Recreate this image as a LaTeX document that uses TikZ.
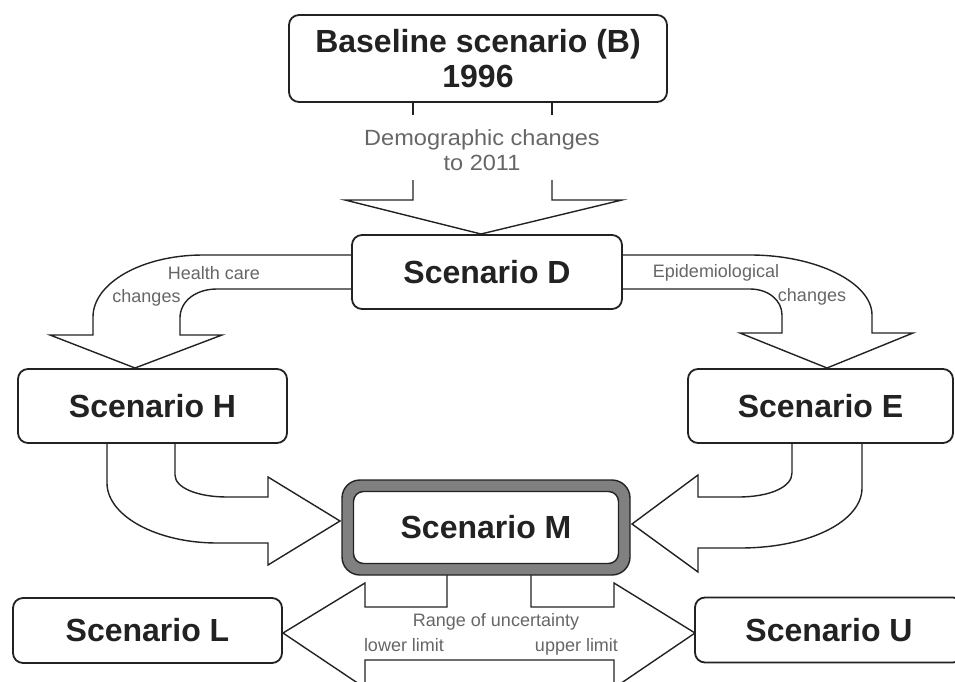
\documentclass[tikz,border=0pt]{standalone}
\usepackage{fontspec}
\setmainfont{Liberation Sans}
\newfontfamily\wideLS[FakeStretch=1.07]{Liberation Sans}
\definecolor{ink}{HTML}{222222}
\definecolor{lbl}{HTML}{666666}
\definecolor{band}{HTML}{808080}
\begin{document}
\begin{tikzpicture}[x=1pt,y=-1pt,
  box/.style={draw=ink, line width=1.8pt, rounded corners=10pt, fill=white, inner sep=0pt, outer sep=0pt,
    font=\fontsize{32}{35}\selectfont\bfseries, text=ink, align=center},
  blk/.style={draw=ink, line width=1.4pt, line join=miter},
  lab/.style={font=\fontsize{18}{20}\selectfont, text=lbl, inner sep=0pt, text height=13pt, text depth=4pt}]
\useasboundingbox (0,0) rectangle (955,682);
\clip (0,0) rectangle (955,682);

% ---- block arrows ----
% demographic arrow B -> D
\draw[blk] (413,102) -- (413,115);
\draw[blk] (552,102) -- (552,115);
\draw[blk] (413,180) -- (413,200) -- (345,200) -- (481,234) -- (622,200) -- (552,200) -- (552,180);
% health care arrow D -> H
\draw[blk] (352,255) -- (203,255) .. controls (142,255) and (93,283) .. (93,317) -- (93,335)
  -- (50,335) -- (135,368) -- (222,335) -- (180,335) -- (180,318)
  .. controls (180,301) and (196,289) .. (217,289) -- (352,289);
% epidemiological arrow D -> E
\draw[blk] (622,255) -- (750,255) .. controls (817,255) and (872,283) .. (872,315) -- (872,333)
  -- (913,333) -- (827,368) -- (740,333) -- (782,333) -- (782,315)
  .. controls (782,300) and (768,289) .. (750,289) -- (622,289);
% H -> M
\draw[blk] (107,443) -- (107,483) .. controls (107,516) and (157,543) .. (217,543) -- (268,543)
  -- (268,565) -- (340,521) -- (268,477) -- (268,497) -- (227,497)
  .. controls (198,497) and (175,488) .. (175,475) -- (175,443);
% E -> M
\draw[blk] (862,443) -- (862,488) .. controls (862,521) and (810,548) .. (740,548) -- (698,548)
  -- (698,572) -- (632,524) -- (698,475) -- (698,497) -- (738,497)
  .. controls (770,497) and (792,487) .. (792,473) -- (792,443);
% M -> L / U (range of uncertainty)
\draw[blk] (447,575) -- (447,607) -- (365,607) -- (365,583) -- (283,633) -- (365,688) -- (365,660)
  -- (614,660) -- (614,688) -- (695,633) -- (614,583) -- (614,607) -- (531,607) -- (531,575);

% ---- boxes ----
\node[box, minimum width=378pt, minimum height=87pt] (B) at (478,58.5) {Baseline scenario (B)\\1996};
\node[box, minimum width=270pt, minimum height=74pt] (D) at (487,272) {Scenario D};
\node[box, minimum width=269pt, minimum height=74pt] (H) at (152.5,406) {Scenario H};
\node[box, minimum width=265pt, minimum height=74pt] (E) at (820.5,406) {Scenario E};
\node[box, minimum width=269pt, minimum height=65pt] (L) at (147.5,630.5) {Scenario L};
\node[box, minimum width=268pt, minimum height=65pt] (U) at (829,630) {Scenario U};
\node[draw=ink, line width=1.4pt, fill=band, rounded corners=18pt, inner sep=0pt,
  minimum width=288pt, minimum height=95pt] (Mo) at (486,527.5) {};
\node[box, line width=1.4pt, minimum width=265pt, minimum height=72pt] (M) at (486,527.5) {Scenario M};

% ---- labels ----
\node[font=\wideLS\fontsize{22}{25}\selectfont, text=lbl, align=center, inner sep=0pt] (dem) at (482,150) {Demographic changes\\to 2011};
\node[lab] (hc1) at (214,275) {Health care};
\node[lab] (hc2) at (146.5,298) {changes};
\node[lab] (ep1) at (716,273) {Epidemiological};
\node[lab] (ep2) at (812,297) {changes};
\node[lab] (rng) at (496,622) {Range of uncertainty};
\node[lab] (low) at (404,647) {lower limit};
\node[lab] (upp) at (576.5,647) {upper limit};
\end{tikzpicture}
\end{document}
